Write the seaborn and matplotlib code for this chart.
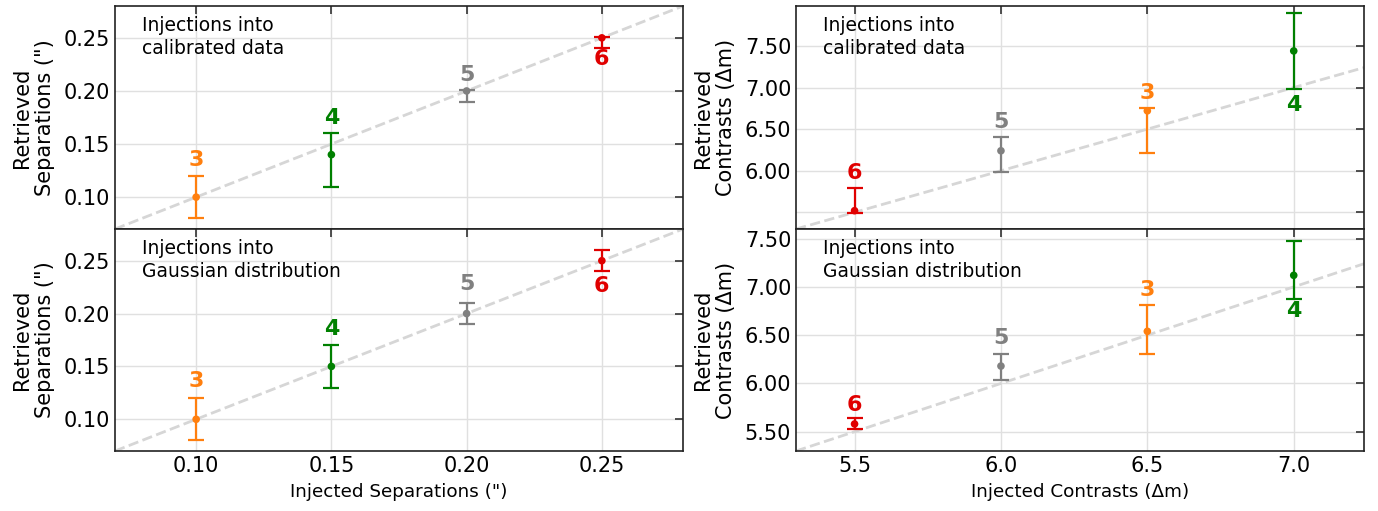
import numpy as np
import pandas as pd
import matplotlib
matplotlib.use("Agg")
import matplotlib.pyplot as plt
import seaborn as sns

# ---------------- data ----------------
companions = ["3", "4", "5", "6"]
colors = ["#ff7f0e", "#008000", "#808080", "#e00000"]

sep_injected = [0.10, 0.15, 0.20, 0.25]
sep_cal = [0.100, 0.140, 0.200, 0.250]
sep_cal_lo = [0.080, 0.110, 0.190, 0.240]
sep_cal_hi = [0.120, 0.160, 0.201, 0.251]
sep_cal_lab = [0.135, 0.175, 0.215, 0.230]

sep_gau = [0.100, 0.150, 0.200, 0.250]
sep_gau_lo = [0.080, 0.130, 0.190, 0.240]
sep_gau_hi = [0.120, 0.170, 0.210, 0.260]
sep_gau_lab = [0.136, 0.185, 0.228, 0.226]

con_injected = [6.5, 7.0, 6.0, 5.5]
con_cal = [6.72, 7.44, 6.24, 5.52]
con_cal_lo = [6.21, 6.98, 5.99, 5.49]
con_cal_hi = [6.75, 7.90, 6.40, 5.79]
con_cal_lab = [6.94, 6.79, 6.58, 5.97]

con_gau = [6.54, 7.12, 6.18, 5.58]
con_gau_lo = [6.31, 6.87, 6.04, 5.53]
con_gau_hi = [6.81, 7.48, 6.31, 5.645]
con_gau_lab = [6.97, 6.75, 6.47, 5.776]

sep_ticks = [0.10, 0.15, 0.20, 0.25]
con_xticks = [5.5, 6.0, 6.5, 7.0]
con_yticks = [5.5, 6.0, 6.5, 7.0, 7.5]

sns.set_theme(style="white")
plt.rcParams['font.family'] = ['DejaVu Sans']
plt.rcParams.update({"text.color": "black", "axes.labelcolor": "black",
                     "xtick.color": "black", "ytick.color": "black"})

fig = plt.figure(figsize=(13.78, 5.11), dpi=100)
L1, R1 = 115 / 1378, 683 / 1378
L2, R2 = 796 / 1378, 1364 / 1378
top, mid, bot = 1 - 6 / 511, 1 - 229 / 511, 1 - 451 / 511
ax_tl = fig.add_axes([L1, mid, R1 - L1, top - mid])
ax_bl = fig.add_axes([L1, bot, R1 - L1, mid - bot])
ax_tr = fig.add_axes([L2, mid, R2 - L2, top - mid])
ax_br = fig.add_axes([L2, bot, R2 - L2, mid - bot])


def panel(ax, x, y, lo, hi, lab, xlim, ylim, text):
    ax.grid(True, color="#e0e0e0", lw=1.0, zorder=0)
    ax.axline((xlim[0], xlim[0]), slope=1, color="#d6d6d6", ls="--", lw=2, zorder=1)
    df = pd.DataFrame({"x": x, "y": y, "c": companions})
    for i in range(len(x)):
        ax.errorbar(x[i], y[i], yerr=[[y[i] - lo[i]], [hi[i] - y[i]]], fmt="none",
                    ecolor=colors[i], elinewidth=1.6, capsize=6, capthick=1.6, zorder=3)
        ax.text(x[i], lab[i], companions[i], color=colors[i], fontsize=16,
                fontweight="bold", ha="center", va="center", zorder=4)
    sns.scatterplot(data=df, x="x", y="y", hue="c", palette=colors, hue_order=companions,
                    s=30, edgecolor="none", legend=False, ax=ax, zorder=4)
    ax.set_xlim(*xlim)
    ax.set_ylim(*ylim)
    ax.text(0.048, 0.955, text, transform=ax.transAxes, ha="left", va="top",
            fontsize=13.5, linespacing=1.25, color="black")
    ax.tick_params(direction="in", top=True, right=True, length=6, width=1.2,
                   labelsize=15, color="#333333", labelcolor="black")
    for s in ax.spines.values():
        s.set_color("#222222")
        s.set_linewidth(1.2)
    ax.set_xlabel("")
    ax.set_ylabel("")


panel(ax_tl, sep_injected, sep_cal, sep_cal_lo, sep_cal_hi, sep_cal_lab,
      (0.07, 0.28), (0.07, 0.28), "Injections into\ncalibrated data")
panel(ax_bl, sep_injected, sep_gau, sep_gau_lo, sep_gau_hi, sep_gau_lab,
      (0.07, 0.28), (0.07, 0.28), "Injections into\nGaussian distribution")
panel(ax_tr, con_injected, con_cal, con_cal_lo, con_cal_hi, con_cal_lab,
      (5.3, 7.24), (5.3, 7.98), "Injections into\ncalibrated data")
panel(ax_br, con_injected, con_gau, con_gau_lo, con_gau_hi, con_gau_lab,
      (5.3, 7.24), (5.3, 7.6), "Injections into\nGaussian distribution")

for ax in (ax_tl, ax_bl):
    ax.set_xticks(sep_ticks)
    ax.set_yticks(sep_ticks)
    ax.set_yticklabels([f"{v:.2f}" for v in sep_ticks])
    ax.set_ylabel("Retrieved\nSeparations (\")", fontsize=15, labelpad=6)
ax_bl.set_xticklabels([f"{v:.2f}" for v in sep_ticks])
ax_bl.set_xlabel("Injected Separations (\")", fontsize=13.2, labelpad=5)
ax_tl.set_xticklabels([])

for ax in (ax_tr, ax_br):
    ax.set_xticks(con_xticks)
    ax.set_yticks(con_yticks)
    ax.set_ylabel("Retrieved\nContrasts (Δm)", fontsize=15, labelpad=6)
ax_tr.set_yticklabels([""] + [f"{v:.2f}" for v in con_yticks[1:]])
ax_br.set_yticklabels([f"{v:.2f}" for v in con_yticks])
ax_br.set_xticklabels([f"{v:.1f}" for v in con_xticks])
ax_br.set_xlabel("Injected Contrasts (Δm)", fontsize=13.2, labelpad=5)
ax_tr.set_xticklabels([])

fig.savefig("out.png", dpi=100)
